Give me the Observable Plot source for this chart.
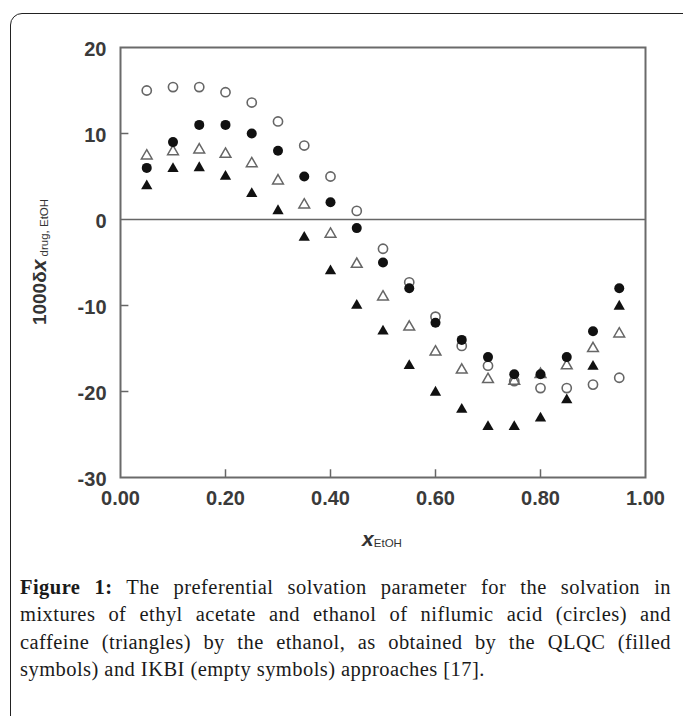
<!DOCTYPE html>
<html>
<head>
<meta charset="utf-8">
<script src="https://cdn.jsdelivr.net/npm/d3@7"></script>
<script src="https://cdn.jsdelivr.net/npm/@observablehq/plot@0.6"></script>
<style>
  html, body { margin: 0; padding: 0; background: #fff; overflow: hidden; }
  body { width: 683px; height: 716px; position: relative; }
  .card { position: absolute; left: 10px; top: 13px; width: 720px; height: 760px;
          border: 1.5px solid #222; border-radius: 12px; box-sizing: border-box; }
  #chart { position: absolute; left: 0; top: 0; }
  .caption { position: absolute; left: 20px; top: 574px; width: 651px;
             font-family: "Liberation Serif", "Times New Roman", serif; font-size: 20.5px;
             letter-spacing: 0.45px; line-height: 27.3px; color: #1a1a1a; }
  .caption .j { text-align: justify; text-align-last: justify; }
  .caption b { font-weight: bold; }
</style>
</head>
<body>
<div class="card"></div>
<div id="chart"></div>
<div class="caption">
  <div class="j"><b>Figure 1:</b> The preferential solvation parameter for the solvation in</div>
  <div class="j">mixtures of ethyl acetate and ethanol of niflumic acid (circles) and</div>
  <div class="j">caffeine (triangles) by the ethanol, as obtained by the QLQC (filled</div>
  <div>symbols) and IKBI (empty symbols) approaches [17].</div>
</div>
<script>
// ---- data ----
const xEtOH = [0.05, 0.10, 0.15, 0.20, 0.25, 0.30, 0.35, 0.40, 0.45, 0.50,
               0.55, 0.60, 0.65, 0.70, 0.75, 0.80, 0.85, 0.90, 0.95];
// niflumic acid, QLQC (filled circles)
const niflumicQLQC = [6.0, 9.0, 11.0, 11.0, 10.0, 8.0, 5.0, 2.0, -1.0, -5.0,
                      -8.0, -12.0, -14.0, -16.0, -18.0, -18.0, -16.0, -13.0, -8.0];
// niflumic acid, IKBI (empty circles)
const niflumicIKBI = [15.0, 15.4, 15.4, 14.8, 13.6, 11.4, 8.6, 5.0, 1.0, -3.4,
                      -7.3, -11.3, -14.7, -17.0, -18.8, -19.6, -19.6, -19.2, -18.4];
// caffeine, QLQC (filled triangles)
const caffeineQLQC = [3.9, 5.9, 6.0, 5.0, 3.0, 1.0, -2.1, -6.0, -10.0, -13.0,
                      -17.0, -20.1, -22.1, -24.1, -24.1, -23.1, -21.0, -17.1, -10.1];
// caffeine, IKBI (empty triangles)
const caffeineIKBI = [7.4, 7.9, 8.1, 7.6, 6.5, 4.5, 1.7, -1.7, -5.2, -9.0,
                      -12.5, -15.4, -17.5, -18.6, -18.8, -18.0, -17.0, -15.0, -13.3];

const xTickLabels = [0, 0.2, 0.4, 0.6, 0.8, 1.0];
const yTickLabels = [-30, -20, -10, 0, 10, 20];
const xInnerTicks = [0.2, 0.4, 0.6, 0.8];
const yInnerTicks = [-20, -10, 10];

const rows = arr => xEtOH.map((x, i) => ({x, y: arr[i]}));

const plot = Plot.plot({
  width: 683,
  height: 560,
  marginLeft: 120,
  marginRight: 38,
  marginTop: 47,
  marginBottom: 83,
  style: {fontFamily: "'Liberation Sans', Arial, sans-serif", fontSize: "20px", color: "#333", background: "transparent"},
  x: {domain: [0, 1]},
  y: {domain: [-30, 20]},
  marks: [
    Plot.ruleY([0], {stroke: "#666", strokeWidth: 1.6}),
    Plot.ruleX(xInnerTicks, {y1: -30, y2: -29.1, stroke: "#666", strokeWidth: 1.5}),
    Plot.ruleY(yInnerTicks, {x1: 0, x2: 0.016, stroke: "#666", strokeWidth: 1.5}),
    Plot.frame({stroke: "#6a6a6a", strokeWidth: 2}),
    Plot.axisX(xTickLabels, {tickSize: 0, tickPadding: 13, tickFormat: d3.format(".2f"), label: null, fontWeight: "bold", fill: "#3a3a3a"}),
    Plot.axisY(yTickLabels, {tickSize: 0, tickPadding: 14, tickFormat: d => d3.format("d")(d).replace("−", "-"), label: null, dy: 2, fontWeight: "bold", fill: "#3a3a3a"}),
    Plot.dot(rows(niflumicIKBI), {x: "x", y: "y", r: 4.6, stroke: "#666", strokeWidth: 1.6, fill: "none"}),
    Plot.dot(rows(caffeineIKBI), {x: "x", y: "y", symbol: "triangle", r: 4, stroke: "#666", strokeWidth: 1.5, fill: "none"}),
    Plot.dot(rows(niflumicQLQC), {x: "x", y: "y", r: 5, fill: "#111", stroke: "none"}),
    Plot.dot(rows(caffeineQLQC), {x: "x", y: "y", symbol: "triangle", r: 4.2, fill: "#111", stroke: "none"})
  ]
});
document.getElementById("chart").appendChild(plot);

const svg = d3.select(plot);
// y axis label: 1000δx drug, EtOH
const yl = svg.append("text")
  .attr("transform", "translate(46,262) rotate(-90)")
  .attr("text-anchor", "middle")
  .attr("fill", "#333")
  .attr("font-family", "'Liberation Sans', Arial, sans-serif");
yl.append("tspan").attr("font-size", 19).attr("font-weight", "bold").text("1000δ");
yl.append("tspan").attr("font-size", 21).attr("font-weight", "bold").attr("font-style", "italic").text("x");
yl.append("tspan").attr("font-size", 11.5).attr("dy", 2).text(" drug, EtOH");

// x axis label: x EtOH
const xl = svg.append("text")
  .attr("x", 382).attr("y", 546)
  .attr("text-anchor", "middle")
  .attr("fill", "#333")
  .attr("font-family", "'Liberation Sans', Arial, sans-serif");
xl.append("tspan").attr("font-size", 21).attr("font-weight", "bold").attr("font-style", "italic").text("x");
xl.append("tspan").attr("font-size", 11.5).attr("dy", 1).text("EtOH");
</script>
</body>
</html>
